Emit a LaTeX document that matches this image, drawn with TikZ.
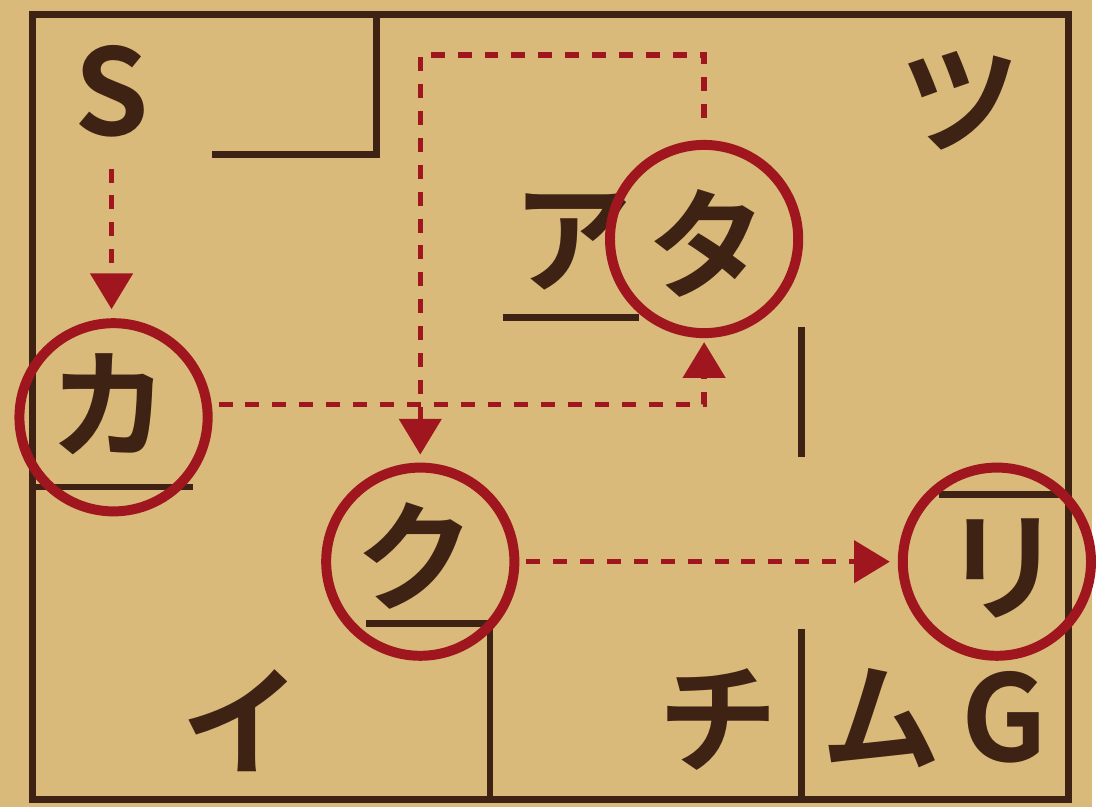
\documentclass[tikz,border=0pt]{standalone}
\usepackage{fontspec}
\newfontfamily\kanafont{Noto Sans CJK JP Bold}
\usetikzlibrary{arrows.meta,positioning}
\definecolor{paper}{HTML}{D9BA7A}
\definecolor{ink}{HTML}{3E2214}
\definecolor{trail}{HTML}{A0161E}

\begin{document}
\begin{tikzpicture}[x=1pt,y=-1pt,>={Triangle[length=36pt,width=42pt]},
		wall/.style={draw=ink,line width=7pt},
		room/.style={text=ink,inner sep=0pt,font=\kanafont\fontsize{120}{120}\selectfont},
		ring/.style={circle,draw=trail,line width=10pt,minimum size=189pt,inner sep=0pt},
		route/.style={draw=trail,line width=5.5pt,dash pattern=on 14pt off 13pt}]
		\fill[paper] (0,0) rectangle (1096,810);
		% walls
		\draw[wall] (33,15) rectangle (1073,803);
		\draw[wall] (378,15) -- (378,155) -- (213,155);
		\draw[wall] (505,319) -- (642,319);
		\draw[wall] (805,328) -- (805,459);
		\draw[wall] (33,489) -- (194,489);
		\draw[wall] (368,626) -- (492,626) -- (492,803);
		\draw[wall] (805,632) -- (805,803);
		\draw[wall] (943,497) -- (1073,497);
		% rooms
		\node[room] (start) at (112,92) {S};
		\node[room] (tsu) at (964,101) {ツ};
		\node[room] (a) at (575,243) {ア};
		\node[room] (ta) at (710,244) {タ};
		\node[room] (ka) at (110,406) {カ};
		\node[room] (ku) at (417,558) {ク};
		\node[room] (ri) at (1007,571) {リ};
		\node[room] (i) at (242,724) {イ};
		\node[room] (chi) at (721,722) {チ};
		\node[room] (mu) at (885,721) {ム};
		\node[room] (goal) at (1008,720) {G};
		% visited rooms
		\node[ring] (taRing) at (707,240) {};
		\node[ring] (kaRing) at (114,419) {};
		\node[ring] (kuRing) at (422,564) {};
		\node[ring] (riRing) at (1001,564) {};
		% route
		\coordinate (bendA) at (707,406);
		\coordinate (bendB) at (422,55);
		\draw[route,->,shorten <=31pt,shorten >=9pt] (start) -- (start |- kaRing.north);
		\draw[route,->,shorten <=6pt,shorten >=4pt] (kaRing.east |- bendA) -- (bendA) -- (taRing.south);
		\draw[route,->,shorten <=22pt,shorten >=8pt] (taRing.north) |- (bendB) -- (kuRing.north);
		\draw[route,->,shorten <=7pt,shorten >=8pt] (kuRing.east) -- (riRing.west);
\end{tikzpicture}
\end{document}
